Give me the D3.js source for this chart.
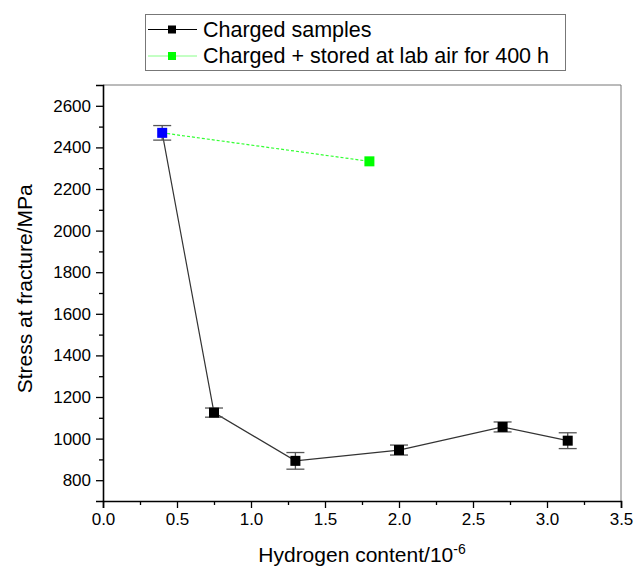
<!DOCTYPE html>
<html>
<head>
<meta charset="utf-8">
<script src="https://cdn.jsdelivr.net/npm/d3@7"></script>
<style>
  body { margin: 0; background: #fff; }
  text { font-family: "Liberation Sans", Arial, sans-serif; fill: #000; }
</style>
</head>
<body>
<div id="chart"></div>
<script>
// charged samples
var hydrogen = [0.4, 0.75, 1.3, 2.0, 2.7, 3.14];
var stress = [2470, 1125, 893, 945, 1056, 990];
var stressErr = [35, 22, 40, 24, 24, 38];

// charged + stored 400 h
var storedHydrogen = [0.4, 1.8];
var storedStress = [2470, 2333];

// first point (uncharged) drawn blue
var blueIndex = 0;

var xTicks = [0, 0.5, 1.0, 1.5, 2.0, 2.5, 3.0, 3.5];
var yTicks = [800, 1000, 1200, 1400, 1600, 1800, 2000, 2200, 2400, 2600];

var width = 634, height = 568;
var margin = {top: 85, right: 13, bottom: 67, left: 103};

var svg = d3.select("#chart").append("svg")
  .attr("width", width)
  .attr("height", height);

var x = d3.scaleLinear().domain([0, 3.5]).range([margin.left, width - margin.right]);
var y = d3.scaleLinear().domain([700, 2700]).range([height - margin.bottom, margin.top]);

// frame top / right
svg.append("path")
  .attr("d", "M" + x(0) + "," + y(2700) + "H" + x(3.5) + "V" + y(700))
  .attr("fill", "none")
  .attr("stroke", "#777")
  .attr("stroke-width", 1);

// x axis
svg.append("g")
  .attr("transform", "translate(0," + y(700) + ")")
  .call(d3.axisBottom(x).tickValues(xTicks).tickFormat(d3.format(".1f")).tickSizeOuter(0).tickSize(7).tickPadding(5));
svg.append("g")
  .attr("transform", "translate(0," + y(700) + ")")
  .call(d3.axisBottom(x).tickValues(d3.range(0.25, 3.5, 0.5)).tickFormat("").tickSizeOuter(0).tickSize(4))
  .select(".domain").remove();

// y axis
svg.append("g")
  .attr("transform", "translate(" + x(0) + ",0)")
  .call(d3.axisLeft(y).tickValues(yTicks).tickFormat(d3.format("d")).tickSizeOuter(7).tickSize(7).tickPadding(5));
svg.append("g")
  .attr("transform", "translate(" + x(0) + ",0)")
  .call(d3.axisLeft(y).tickValues(d3.range(900, 2700, 200)).tickFormat("").tickSize(4))
  .select(".domain").remove();

svg.selectAll(".domain").attr("stroke-width", 1.6);
svg.selectAll(".tick line").attr("stroke-width", 1.3);
svg.selectAll(".tick text").style("font-size", "17px").style("font-family", "Liberation Sans, Arial, sans-serif");

// axis titles
var xt = svg.append("text")
  .attr("x", (x(0) + x(3.5)) / 2)
  .attr("y", 562)
  .attr("text-anchor", "middle")
  .style("font-size", "21px");
xt.append("tspan").text("Hydrogen content/10");
xt.append("tspan").attr("dy", -8).style("font-size", "14px").text("-6");

svg.append("text")
  .attr("transform", "translate(32," + y(1720) + ") rotate(-90)")
  .attr("text-anchor", "middle")
  .style("font-size", "21px")
  .text("Stress at fracture/MPa");

// stored series: dashed green line
var storedData = storedHydrogen.map(function(d, i) { return {x: d, y: storedStress[i]}; });
svg.append("path")
  .datum(storedData)
  .attr("d", d3.line().x(function(d) { return x(d.x); }).y(function(d) { return y(d.y); }))
  .attr("fill", "none")
  .attr("stroke", "#33ff33")
  .attr("stroke-width", 1.2)
  .attr("stroke-dasharray", "3,2");

var data = hydrogen.map(function(d, i) { return {x: d, y: stress[i], e: stressErr[i]}; });

svg.append("path")
  .datum(data)
  .attr("d", d3.line().x(function(d) { return x(d.x); }).y(function(d) { return y(d.y); }))
  .attr("fill", "none")
  .attr("stroke", "#333")
  .attr("stroke-width", 1.2);

// error bars
var eb = svg.append("g").selectAll("g").data(data).enter().append("g")
  .attr("stroke", "#555")
  .attr("stroke-width", 1.3);
eb.append("line")
  .attr("x1", function(d) { return x(d.x); }).attr("x2", function(d) { return x(d.x); })
  .attr("y1", function(d) { return y(d.y + d.e); }).attr("y2", function(d) { return y(d.y - d.e); });
eb.append("line")
  .attr("x1", function(d) { return x(d.x) - 9; }).attr("x2", function(d) { return x(d.x) + 9; })
  .attr("y1", function(d) { return y(d.y + d.e); }).attr("y2", function(d) { return y(d.y + d.e); });
eb.append("line")
  .attr("x1", function(d) { return x(d.x) - 9; }).attr("x2", function(d) { return x(d.x) + 9; })
  .attr("y1", function(d) { return y(d.y - d.e); }).attr("y2", function(d) { return y(d.y - d.e); });

// markers
var ms = 10;
svg.append("g").selectAll("rect").data(storedData.slice(1)).enter().append("rect")
  .attr("x", function(d) { return x(d.x) - ms / 2; })
  .attr("y", function(d) { return y(d.y) - ms / 2; })
  .attr("width", ms).attr("height", ms)
  .attr("fill", "#00ff00");

svg.append("g").selectAll("rect").data(data).enter().append("rect")
  .attr("x", function(d) { return x(d.x) - ms / 2; })
  .attr("y", function(d) { return y(d.y) - ms / 2; })
  .attr("width", ms).attr("height", ms)
  .attr("fill", function(d, i) { return i === blueIndex ? "#0000ff" : "#000"; });

// legend
var lg = svg.append("g");
lg.append("rect")
  .attr("x", 145.5).attr("y", 14.5).attr("width", 420).attr("height", 56)
  .attr("fill", "#fff").attr("stroke", "#777").attr("stroke-width", 1);
var legendItems = [
  {label: "Charged samples", line: "#000", fill: "#000"},
  {label: "Charged + stored at lab air for 400 h", line: "#88ff88", fill: "#00ff00"}
];
var li = lg.selectAll("g").data(legendItems).enter().append("g")
  .attr("transform", function(d, i) { return "translate(0," + (29.5 + i * 26.5) + ")"; });
li.append("line")
  .attr("x1", 148).attr("x2", 197)
  .attr("stroke", function(d) { return d.line; }).attr("stroke-width", 1);
li.append("rect")
  .attr("x", 168).attr("y", -4).attr("width", 8).attr("height", 8)
  .attr("fill", function(d) { return d.fill; });
li.append("text")
  .attr("x", 203).attr("y", 7)
  .style("font-size", "21.5px")
  .text(function(d) { return d.label; });
</script>
</body>
</html>
